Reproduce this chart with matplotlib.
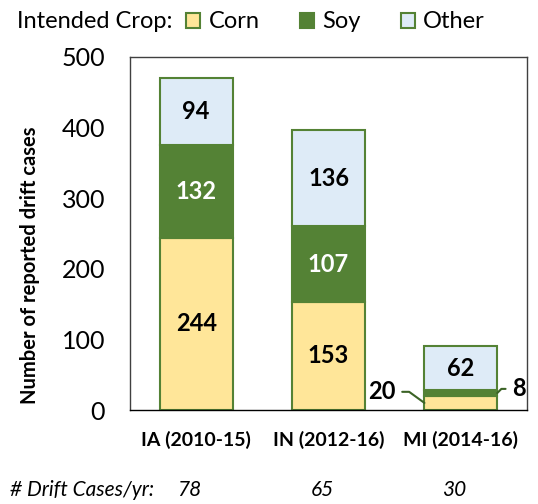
import numpy as np
import matplotlib
matplotlib.use('Agg')
import matplotlib.pyplot as plt
from matplotlib.patches import Patch

plt.rcParams['font.family'] = ['Lato', 'DejaVu Sans']

states = ['IA (2010-15)', 'IN (2012-16)', 'MI (2014-16)']
corn = [244, 153, 20]
soy = [132, 107, 8]
other = [94, 136, 62]
per_year = ['78', '65', '30']
yticks = [0, 100, 200, 300, 400, 500]

C_CORN = '#FFE699'
C_SOY = '#548235'
C_OTHER = '#DEEBF7'
C_EDGE = '#548235'
C_LEAD = '#3B6326'

fig = plt.figure(figsize=(5.38, 5.04), dpi=100)
ax = fig.add_axes([130 / 538, 1 - 410 / 504, 397 / 538, 353 / 504])

x = np.arange(len(states))
w = 0.55
corn = np.array(corn); soy = np.array(soy); other = np.array(other)
kw = dict(width=w, edgecolor=C_EDGE, linewidth=1.5, zorder=2)
ax.bar(x, corn, color=C_CORN, **kw)
ax.bar(x, soy, bottom=corn, color=C_SOY, **kw)
ax.bar(x, other, bottom=corn + soy, color=C_OTHER, **kw)

ax.set_xlim(-0.5, 2.5)
ax.set_ylim(0, 500)
ax.set_yticks(yticks)
ax.set_xticks(x)
ax.set_xticklabels(states, fontsize=14, fontweight='bold')
ax.tick_params(axis='y', length=0, labelsize=18, pad=18)
ax.tick_params(axis='x', length=0, pad=15)
for s in ax.spines.values():
    s.set_color('#404040'); s.set_linewidth(1)
ax.spines['bottom'].set_color('black')
ax.set_ylabel('Number of reported drift cases', fontsize=14.5, fontweight='bold')
ax.yaxis.set_label_coords(-90 / 397, 0.41)

# segment labels
for i in range(len(states)):
    if i < 2:
        ax.text(x[i], corn[i] / 2, str(corn[i]), ha='center', va='center',
                fontsize=17, fontweight='bold', color='black')
        ax.text(x[i], corn[i] + soy[i] / 2, str(soy[i]), ha='center', va='center',
                fontsize=17, fontweight='bold', color='white')
    ax.text(x[i], corn[i] + soy[i] + other[i] / 2, str(other[i]), ha='center', va='center',
            fontsize=17, fontweight='bold', color='black')

# leader labels for the small MI segments
ax.annotate(str(corn[2]), xy=(x[2] - w / 2, corn[2] / 2), xytext=(-21, 8),
            textcoords='offset points', ha='right', va='center',
            fontsize=17, fontweight='bold',
            arrowprops=dict(arrowstyle='-', color=C_LEAD, lw=1.5, shrinkA=3, shrinkB=0,
                            connectionstyle='angle,angleA=0,angleB=-36,rad=0'))
ax.annotate(str(soy[2]), xy=(x[2] + w / 2, corn[2] + soy[2] / 2), xytext=(11, 3),
            textcoords='offset points', ha='left', va='center',
            fontsize=17, fontweight='bold',
            arrowprops=dict(arrowstyle='-', color=C_LEAD, lw=1.5, shrinkA=3, shrinkB=0,
                            connectionstyle='angle,angleA=180,angleB=45,rad=0'))

# legend row
fig.text(17 / 538, 1 - 22 / 504, 'Intended Crop:', fontsize=17, va='center', ha='left')
handles = [Patch(facecolor=c, edgecolor=C_EDGE, linewidth=1.5) for c in (C_CORN, C_SOY, C_OTHER)]
fig.legend(handles, ['Corn', 'Soy', 'Other'], loc='center left',
           bbox_to_anchor=(186 / 538, 1 - 22 / 504), ncol=3, frameon=False,
           fontsize=17, handlelength=0.6, handleheight=0.6, handletextpad=0.35,
           columnspacing=1.7, borderpad=0, borderaxespad=0)

# cases per year row
fig.text(10 / 538, 1 - 490 / 504, '# Drift Cases/yr:', fontsize=15, style='italic',
         va='center', ha='left')
for i, v in enumerate(per_year):
    xd = ax.transData.transform((x[i] - 0.05, 0))[0]
    fig.text(xd / fig.dpi / fig.get_size_inches()[0], 1 - 490 / 504, v,
             fontsize=15, style='italic', va='center', ha='center')

fig.savefig('out.png', dpi=100)
